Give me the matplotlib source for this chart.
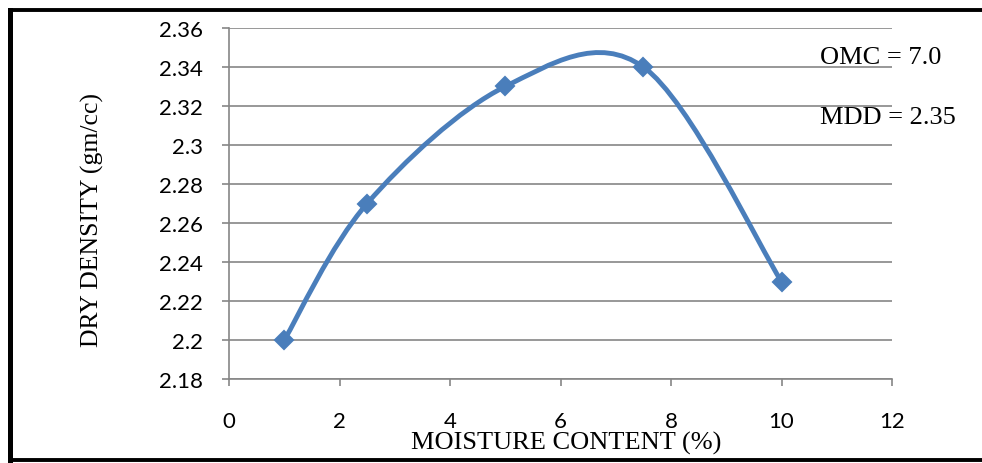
import numpy as np
import matplotlib
matplotlib.use("Agg")
import matplotlib.pyplot as plt
from matplotlib.path import Path
from matplotlib.patches import PathPatch
from matplotlib.lines import Line2D

# Data
moisture = [1, 2.5, 5, 7.5, 10]
dry_density = [2.20, 2.27, 2.33, 2.34, 2.23]
x_ticks = [0, 2, 4, 6, 8, 10, 12]
y_ticks = [2.18, 2.20, 2.22, 2.24, 2.26, 2.28, 2.30, 2.32, 2.34, 2.36]
y_tick_labels = ["2.18", "2.2", "2.22", "2.24", "2.26", "2.28", "2.3", "2.32", "2.34", "2.36"]
annotations = ["OMC = 7.0", "MDD = 2.35"]

W, H = 982, 464
fig = plt.figure(figsize=(W / 100, H / 100), dpi=100)
ax = fig.add_axes([229 / W, 1 - 380 / H, (892 - 229) / W, (380 - 29) / H])

grid_c = "#868686"
blue = "#4A7EBB"

# Excel-style smoothed line: cubic Bezier segments (Catmull-Rom control points)
pts = np.column_stack([moisture, dry_density])
verts = [tuple(pts[0])]
codes = [Path.MOVETO]
n = len(pts)
for i in range(n - 1):
    p0 = pts[max(i - 1, 0)]
    p1 = pts[i]
    p2 = pts[i + 1]
    p3 = pts[min(i + 2, n - 1)]
    c1 = p1 + (p2 - p0) / 6.0
    c2 = p2 - (p3 - p1) / 6.0
    verts += [tuple(c1), tuple(c2), tuple(p2)]
    codes += [Path.CURVE4] * 3
path = Path(verts, codes)
ax.add_patch(PathPatch(path, facecolor="none", edgecolor=blue, lw=3.5,
                       capstyle="round", joinstyle="round", zorder=3))
ax.plot(moisture, dry_density, linestyle="none", marker="D", markersize=9,
        markeredgewidth=1.5, color=blue, markeredgecolor=blue, zorder=4)
for l in ax.lines:
    l.set_markeredgecolor(blue)
    l.set_solid_joinstyle("round")

ax.set_xlim(0, 12)
ax.set_ylim(2.18, 2.36)
ax.set_xticks(x_ticks)
ax.set_yticks(y_ticks)
ax.set_yticklabels(y_tick_labels)
ax.grid(axis="y", color=grid_c, lw=1.2)
ax.set_axisbelow(True)
for s in ["top", "right"]:
    ax.spines[s].set_visible(False)
for s in ["left", "bottom"]:
    ax.spines[s].set_color(grid_c)
    ax.spines[s].set_linewidth(1.2)
ax.tick_params(axis="both", direction="out", length=5, width=1.2, color=grid_c,
               labelsize=16, labelcolor="black")
ax.tick_params(axis="y", pad=14)
ax.tick_params(axis="x", pad=18)
for lab in ax.get_xticklabels() + ax.get_yticklabels():
    lab.set_family("Lato")

serif = "Liberation Serif"
fig.text(566 / W, 1 - 443 / H, "MOISTURE CONTENT (%)", ha="center", va="center",
         fontsize=19, family=serif)
fig.text(92 / W, 1 - 220 / H, "DRY DENSITY (gm/cc)", ha="center", va="center",
         rotation=90, fontsize=18.5, family=serif)
fig.text(820 / W, 1 - 58 / H, annotations[0], ha="left", va="center",
         fontsize=19, family=serif)
fig.text(820 / W, 1 - 118 / H, annotations[1], ha="left", va="center",
         fontsize=19, family=serif)

# outer frame (left, top, bottom)
fw = 2.8
fig.add_artist(Line2D([9.5 / W, 9.5 / W], [1 - 461 / H, 1 - 11 / H], color="black",
                      lw=3.6, transform=fig.transFigure, solid_capstyle="projecting"))
fig.add_artist(Line2D([9.5 / W, 1.0], [1 - 11 / H, 1 - 11 / H], color="black",
                      lw=fw, transform=fig.transFigure, solid_capstyle="projecting"))
fig.add_artist(Line2D([9.5 / W, 1.0], [1 - 461 / H, 1 - 461 / H], color="black",
                      lw=fw, transform=fig.transFigure, solid_capstyle="projecting"))

fig.savefig("out.png", dpi=100)
